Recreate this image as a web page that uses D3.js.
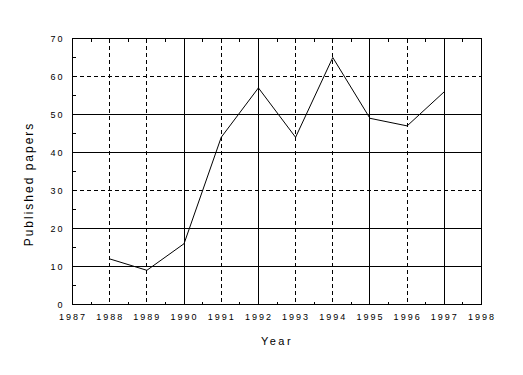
<!DOCTYPE html>
<html>
<head>
<meta charset="utf-8">
<script src="https://cdn.jsdelivr.net/npm/d3@7"></script>
<style>
  body { margin: 0; background: #fff; }
  svg { display: block; }
  .tick-label { font-family: "Liberation Sans", Arial, sans-serif; font-size: 9px; letter-spacing: 2px; fill: #000; }
  .title { font-family: "Liberation Sans", Arial, sans-serif; fill: #000; }
</style>
</head>
<body>
<svg id="plot" width="523" height="375"></svg>
<script>
// data
const YEARS = [1988, 1989, 1990, 1991, 1992, 1993, 1994, 1995, 1996, 1997];
const PAPERS = [12, 9, 16, 44, 57, 44, 65, 49, 47, 56];

const X_TICKS = [1987, 1988, 1989, 1990, 1991, 1992, 1993, 1994, 1995, 1996, 1997, 1998];
const Y_TICKS = [0, 10, 20, 30, 40, 50, 60, 70];

// which grid lines are drawn dashed in the original (the rest are solid)
const DASHED_X = [1988, 1989, 1991, 1993, 1994, 1996];
const DASHED_Y = [30, 60];

const svg = d3.select('#plot');

const x = d3.scaleLinear().domain([1987, 1998]).range([72.5, 481.5]);
const y = d3.scaleLinear().domain([0, 70]).range([304.5, 38.5]);

// grid
let grid = svg.append('g')
  .attr('stroke', '#000')
  .attr('stroke-width', 1)
  .attr('shape-rendering', 'crispEdges');

grid.selectAll('line.vx')
  .data(X_TICKS.slice(1, -1))
  .enter()
  .append('line')
  .attr('x1', d => Math.round(x(d) - 0.5) + 0.5)
  .attr('x2', d => Math.round(x(d) - 0.5) + 0.5)
  .attr('y1', y(70))
  .attr('y2', y(0))
  .attr('stroke-dasharray', d => DASHED_X.includes(d) ? '4,3' : null);

grid.selectAll('line.hy')
  .data(Y_TICKS.slice(1, -1))
  .enter()
  .append('line')
  .attr('y1', d => Math.round(y(d) - 0.5) + 0.5)
  .attr('y2', d => Math.round(y(d) - 0.5) + 0.5)
  .attr('x1', x(1987))
  .attr('x2', x(1998))
  .attr('stroke-dasharray', d => DASHED_Y.includes(d) ? '4,3' : null);

// minor ticks (half years, every 5 papers)
const xMinor = X_TICKS.slice(0, -1).map(d => d + 0.5);
const yMinor = Y_TICKS.slice(0, -1).map(d => d + 5);

grid.selectAll('line.mxb')
  .data(xMinor)
  .enter()
  .append('line')
  .attr('x1', d => Math.round(x(d) - 0.5) + 0.5)
  .attr('x2', d => Math.round(x(d) - 0.5) + 0.5)
  .attr('y1', y(0))
  .attr('y2', y(0) - 3);

grid.selectAll('line.mxt')
  .data(xMinor)
  .enter()
  .append('line')
  .attr('x1', d => Math.round(x(d) - 0.5) + 0.5)
  .attr('x2', d => Math.round(x(d) - 0.5) + 0.5)
  .attr('y1', y(70))
  .attr('y2', y(70) + 3);

grid.selectAll('line.my')
  .data(yMinor)
  .enter()
  .append('line')
  .attr('y1', d => Math.round(y(d) - 0.5) + 0.5)
  .attr('y2', d => Math.round(y(d) - 0.5) + 0.5)
  .attr('x1', x(1987))
  .attr('x2', x(1987) + 3);

// frame
svg.append('rect')
  .attr('x', x(1987))
  .attr('y', y(70))
  .attr('width', x(1998) - x(1987))
  .attr('height', y(0) - y(70))
  .attr('fill', 'none')
  .attr('stroke', '#000')
  .attr('shape-rendering', 'crispEdges');

// axes: labels only, the frame draws the lines
let axisX = svg.append('g')
  .attr('transform', `translate(0,${y(0)})`)
  .call(d3.axisBottom(x).tickValues(X_TICKS).tickFormat(d3.format('d')).tickSize(0).tickPadding(9));
axisX.select('.domain').remove();
axisX.selectAll('text').attr('class', 'tick-label').attr('font-family', null).attr('font-size', null);

let axisY = svg.append('g')
  .attr('transform', `translate(${x(1987)},0)`)
  .call(d3.axisLeft(y).tickValues(Y_TICKS).tickFormat(d3.format('d')).tickSize(0).tickPadding(8));
axisY.select('.domain').remove();
axisY.selectAll('text').attr('class', 'tick-label').attr('font-family', null).attr('font-size', null);

// data line
const line = d3.line()
  .x((d, i) => x(YEARS[i]))
  .y(d => y(d));

svg.append('path')
  .datum(PAPERS)
  .attr('d', line)
  .attr('fill', 'none')
  .attr('stroke', '#000')
  .attr('stroke-width', 1);

// titles
svg.append('text')
  .attr('class', 'title')
  .attr('x', 277)
  .attr('y', 345)
  .attr('text-anchor', 'middle')
  .attr('font-size', 11)
  .attr('letter-spacing', 2.5)
  .text('Year');

svg.append('text')
  .attr('class', 'title')
  .attr('transform', 'translate(33,184) rotate(-90)')
  .attr('text-anchor', 'middle')
  .attr('font-size', 12)
  .attr('letter-spacing', 2)
  .text('Published papers');
</script>
</body>
</html>
